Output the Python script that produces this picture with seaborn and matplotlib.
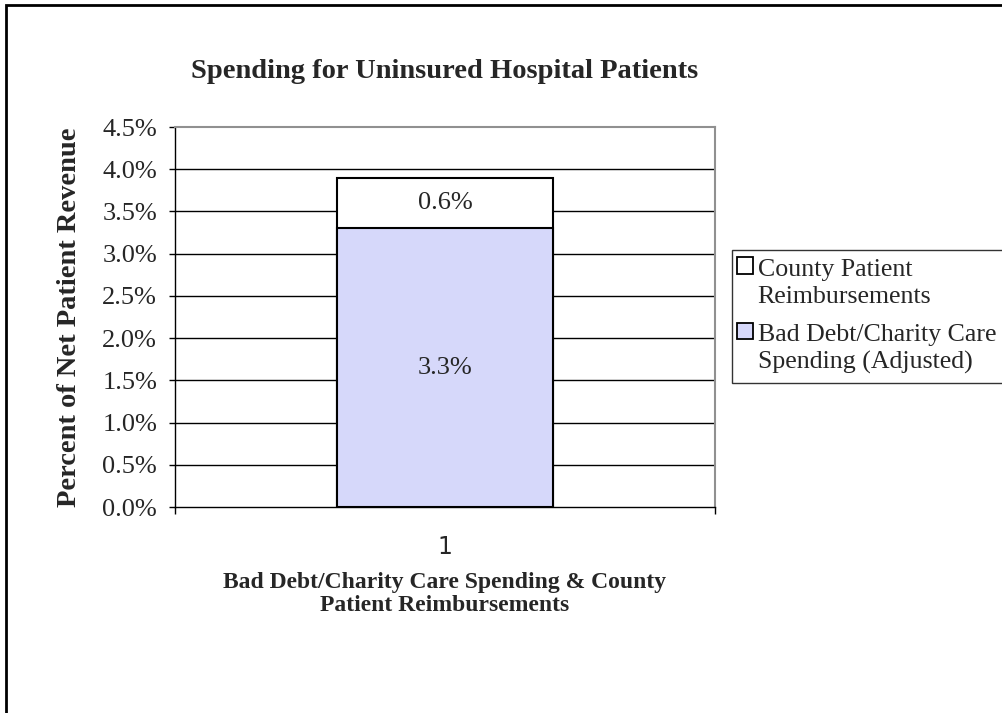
import matplotlib
matplotlib.use("Agg")
import matplotlib.pyplot as plt
import seaborn as sns
import pandas as pd
from matplotlib.patches import Patch, Rectangle
from matplotlib.legend_handler import HandlerPatch
from matplotlib.ticker import FuncFormatter

categories = ["1"]
bad_debt = [3.3]
county = [0.6]
series_names = ["County Patient\nReimbursements", "Bad Debt/Charity Care\nSpending (Adjusted)"]
yticks = [0.0, 0.5, 1.0, 1.5, 2.0, 2.5, 3.0, 3.5, 4.0, 4.5]

title = "Spending for Uninsured Hospital Patients"
xlabel = "Bad Debt/Charity Care Spending & County\nPatient Reimbursements"
ylabel = "Percent of Net Patient Revenue"

lav = "#D6D8FA"
serif = ["Liberation Serif", "DejaVu Serif"]

sns.set_style("white")
plt.rcParams["font.family"] = serif

df = pd.DataFrame({
    "cat": categories,
    "bad": bad_debt,
    "county": county,
})
df["total"] = df["bad"] + df["county"]

fig = plt.figure(figsize=(10.03, 7.13), dpi=100)
ax = fig.add_axes([175 / 1003, 1 - 507 / 713, 540 / 1003, 380 / 713])

for y in yticks[1:-1]:
    ax.axhline(y, color="black", lw=1.0, zorder=0)

sns.barplot(data=df, x="cat", y="total", color="white", edgecolor="black",
            linewidth=1.5, width=0.4, saturation=1, ax=ax, zorder=2)
sns.barplot(data=df, x="cat", y="bad", color=lav, edgecolor="black",
            linewidth=1.5, width=0.4, saturation=1, ax=ax, zorder=3)

ax.set_xlim(-0.5, 0.5)
ax.set_ylim(0, 4.5)
ax.set_yticks(yticks)
ax.yaxis.set_major_formatter(FuncFormatter(lambda v, p: f"{v:.1f}%"))
ax.tick_params(axis="y", which="major", length=4.3, width=1, color="black",
               labelsize=19, pad=8.5, left=True)
ax.set_xticks([0])
ax.set_xticklabels(categories, fontfamily="DejaVu Sans", fontsize=17)
ax.set_xticks([-0.5, 0.5], minor=True)
ax.tick_params(axis="x", which="major", length=0, pad=20)
ax.tick_params(axis="x", which="minor", length=5, width=1, color="black", bottom=True)

for s in ["left", "bottom"]:
    ax.spines[s].set_color("black")
    ax.spines[s].set_linewidth(1.0)
for s in ["top", "right"]:
    ax.spines[s].set_color("#909090")
    ax.spines[s].set_linewidth(1.5)
    ax.spines[s].set_visible(True)

for i, (b, c) in enumerate(zip(bad_debt, county)):
    ax.text(i, b / 2, f"{b:.1f}%", ha="center", va="center", fontsize=19, zorder=5)
    ax.text(i, b + c / 2, f"{c:.1f}%", ha="center", va="center", fontsize=19, zorder=5)

ax.set_xlabel(xlabel, fontsize=17, fontweight="bold", labelpad=9.5, linespacing=1.1)
ax.set_ylabel(ylabel, fontsize=20.5, fontweight="bold", labelpad=15)

fig.text(445 / 1003, 1 - 72 / 713, title, ha="center", va="center",
         fontsize=20.5, fontweight="bold")


def top_square(legend, orig_handle, xdescent, ydescent, width, height, fontsize):
    return Rectangle((-xdescent - 3.0, -ydescent + 0.68 * fontsize), width, height)


handles = [Patch(facecolor="white", edgecolor="black", lw=1.3),
           Patch(facecolor=lav, edgecolor="black", lw=1.3)]
leg = fig.legend(handles, series_names, loc="upper left",
                 bbox_to_anchor=(732 / 1003, 1 - 250 / 713),
                 fontsize=18.6, frameon=True, fancybox=False, edgecolor="black",
                 handlelength=0.62, handleheight=0.62, handletextpad=0.03,
                 borderpad=0.34, labelspacing=0.62, borderaxespad=0,
                 handler_map={Patch: HandlerPatch(patch_func=top_square)})
leg.get_frame().set_linewidth(1.0)
for t in leg.get_texts():
    t.set_linespacing(1.3)

fig.patches.append(Rectangle((6 / 1003, -0.1), 1.2, 1 - 5 / 713 + 0.1,
                             transform=fig.transFigure, fill=False,
                             edgecolor="black", lw=2))

fig.savefig("out.png", dpi=100)
